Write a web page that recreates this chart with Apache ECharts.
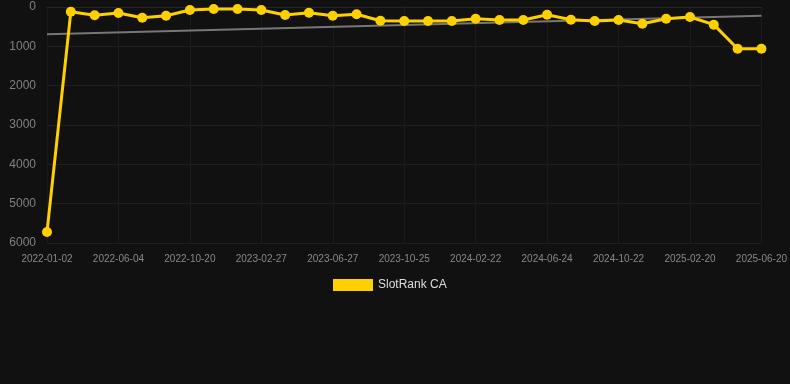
<!DOCTYPE html>
<html><head><meta charset="utf-8">
<script src="https://cdn.jsdelivr.net/npm/echarts@6/dist/echarts.min.js"></script>
<style>html,body{margin:0;padding:0;background:#111111;}#c{width:790px;height:384px;}</style>
</head><body><div id="c"></div>
<script>
var categories = ['2022-01-02','2022-02-22','2022-04-14','2022-06-04','2022-07-20','2022-09-04','2022-10-20','2022-12-01','2023-01-14','2023-02-27','2023-04-08','2023-05-18','2023-06-27','2023-08-06','2023-09-15','2023-10-25','2023-12-04','2024-01-13','2024-02-22','2024-04-03','2024-05-14','2024-06-24','2024-08-03','2024-09-12','2024-10-22','2024-12-01','2025-01-10','2025-02-20','2025-04-01','2025-05-11','2025-06-20'];
var rankValues = [5720,120,211,153,272,221,76,51,51,76,203,145,221,186,348,356,356,356,297,330,330,195,322,356,330,424,297,254,449,1060,1060];
var trendStart = 695;
var trendEnd = 221;
var yTicks = [0,1000,2000,3000,4000,5000,6000];

var chart = echarts.init(document.getElementById('c'));
chart.setOption({
  backgroundColor: '#111111',
  animation: false,
  grid: {left: 47, right: 28, top: 7, bottom: 141, containLabel: false},
  legend: {
    top: 274, left: 328,
    itemWidth: 40, itemHeight: 12, itemGap: 10,
    textStyle: {color: '#dddddd', fontSize: 12, fontFamily: 'Arial, Liberation Sans, sans-serif'},
    data: [{name: 'SlotRank CA', icon: 'rect'}]
  },
  xAxis: {
    type: 'category', data: categories, boundaryGap: false,
    axisLine: {show: true, lineStyle: {color: '#262626'}},
    axisTick: {show: false},
    axisLabel: {interval: 2, color: '#888888', fontSize: 10, margin: 11, fontFamily: 'Arial, Liberation Sans, sans-serif'},
    splitLine: {show: true, interval: 2, lineStyle: {color: '#1b1b1b'}}
  },
  yAxis: {
    type: 'value', inverse: true, min: yTicks[0], max: yTicks[yTicks.length-1], interval: 1000,
    axisLine: {show: false}, axisTick: {show: false},
    axisLabel: {color: '#808080', fontSize: 12, margin: 11, fontFamily: 'Arial, Liberation Sans, sans-serif',
      formatter: function (v) { return String(v); }},
    splitLine: {show: true, lineStyle: {color: '#1f1f1f'}}
  },
  series: [
    {
      name: 'Trend', type: 'line', silent: true, symbol: 'none', z: 1,
      data: [[categories[0], trendStart], [categories[categories.length-1], trendEnd]],
      lineStyle: {color: '#777777', width: 2}
    },
    {
      name: 'SlotRank CA', type: 'line', z: 3,
      data: rankValues,
      symbol: 'circle', symbolSize: 10,
      itemStyle: {color: '#FFD000'},
      lineStyle: {color: '#FFD000', width: 3}
    }
  ]
});
</script>
</body></html>
